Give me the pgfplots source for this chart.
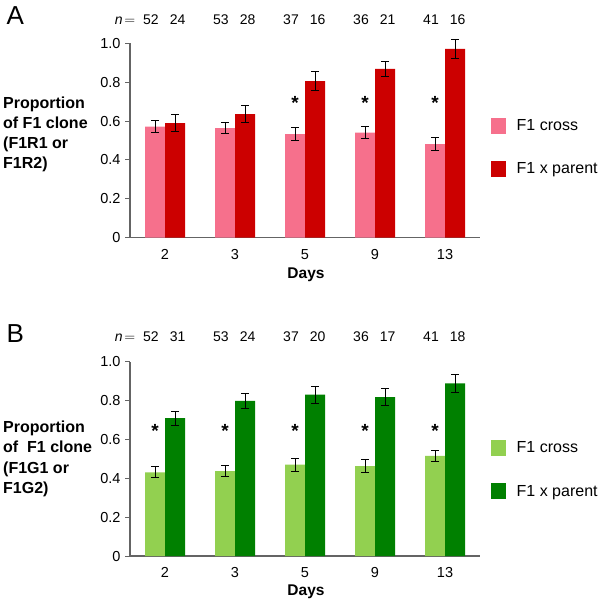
\documentclass[border=0pt]{standalone}
\usepackage{fontspec}
\setmainfont{Liberation Sans}
\usepackage{pgfplots}
\pgfplotsset{compat=1.18}

\definecolor{crossA}{RGB}{246,112,140}
\definecolor{parentA}{RGB}{204,0,0}
\definecolor{crossB}{RGB}{146,208,80}
\definecolor{parentB}{RGB}{0,128,0}
\definecolor{axisgray}{RGB}{100,100,100}

\tikzset{
  nlab/.style={anchor=base, font=\fontsize{14bp}{16bp}\selectfont},
  star/.style={anchor=base, font=\fontsize{19bp}{19bp}\selectfont\bfseries},
}

\pgfplotsset{
  panel/.style={
    width=350bp, height=194.4bp, scale only axis,
    anchor=south west,
    xmin=-0.5, xmax=4.5, ymin=0, ymax=1,
    ybar=0pt, bar width=20bp,
    axis lines*=left,
    axis line style={axisgray, line width=1.1bp},
    xtick={0,...,4}, xticklabels={2,3,5,9,13},
    ytick={0,0.2,0.4,0.6,0.8,1.0},
    yticklabels={0,0.2,0.4,0.6,0.8,1.0},
    tick align=outside,
    major tick length=5bp,
    y tick style={axisgray, line width=1bp},
    x tick style={draw=none},
    yticklabel style={font=\fontsize{14.5bp}{16bp}\selectfont, xshift=-1bp},
    xticklabel style={font=\fontsize{14.5bp}{16bp}\selectfont, yshift=-3bp},
    /pgf/number format/assume math mode=true,
    clip=false,
    legend image code/.code={\fill[##1] (0bp,-8bp) rectangle (15bp,8bp);},
    legend cell align=left,
    legend style={draw=none, fill=none, anchor=north west, inner sep=0pt,
      font=\fontsize{16bp}{18bp}\selectfont, row sep=27bp,
      /tikz/every odd column/.append style={column sep=9bp}},
  },
  bars/.style={draw=none,
    error bars/.cd, y dir=both, y explicit,
    error bar style={black, line width=1bp},
    error mark options={rotate=90, black, mark size=4bp, line width=1bp}},
}

\begin{document}
\begin{tikzpicture}
\useasboundingbox (0,0) rectangle (600bp,-601bp);

% ---------- panel A ----------
\begin{axis}[panel, at={(130bp,-237.7bp)}, legend style={at={(1.03,0.62)}}]
\addplot[fill=crossA, bars] coordinates {
  (0,0.571) +- (0,0.030) (1,0.564) +- (0,0.030) (2,0.533) +- (0,0.033)
  (3,0.540) +- (0,0.032) (4,0.482) +- (0,0.032)
};
\addplot[fill=parentA, bars] coordinates {
  (0,0.590) +- (0,0.044) (1,0.636) +- (0,0.042) (2,0.806) +- (0,0.050)
  (3,0.868) +- (0,0.040) (4,0.971) +- (0,0.049)
};
\legend{F1 cross, F1 x parent}
\node[nlab] (a0) at (axis cs:-0.2,1.097) {52};
\node[nlab, anchor=base east] at ([xshift=-1bp]a0.base west) {\textit{n}\hspace{1.5bp}$=$};
\node[nlab] at (axis cs:0.18,1.097) {24};
\node[nlab] at (axis cs:0.8,1.097) {53};
\node[nlab] at (axis cs:1.18,1.097) {28};
\node[nlab] at (axis cs:1.8,1.097) {37};
\node[nlab] at (axis cs:2.18,1.097) {16};
\node[nlab] at (axis cs:2.8,1.097) {36};
\node[nlab] at (axis cs:3.18,1.097) {21};
\node[nlab] at (axis cs:3.8,1.097) {41};
\node[nlab] at (axis cs:4.18,1.097) {16};
\node[star] at (axis cs:1.857,0.658) {*};
\node[star] at (axis cs:2.857,0.658) {*};
\node[star] at (axis cs:3.857,0.658) {*};
\end{axis}

% ---------- panel B ----------
\begin{axis}[panel, at={(130bp,-556bp)}, height=194.3bp, legend style={at={(1.03,0.60)}}]
\addplot[fill=crossB, bars] coordinates {
  (0,0.431) +- (0,0.029) (1,0.437) +- (0,0.029) (2,0.470) +- (0,0.033)
  (3,0.463) +- (0,0.034) (4,0.515) +- (0,0.030)
};
\addplot[fill=parentB, bars] coordinates {
  (0,0.709) +- (0,0.036) (1,0.799) +- (0,0.039) (2,0.830) +- (0,0.044)
  (3,0.818) +- (0,0.043) (4,0.889) +- (0,0.047)
};
\legend{F1 cross, F1 x parent}
\node[nlab] (b0) at (axis cs:-0.2,1.103) {52};
\node[nlab, anchor=base east] at ([xshift=-1bp]b0.base west) {\textit{n}\hspace{1.5bp}$=$};
\node[nlab] at (axis cs:0.18,1.103) {31};
\node[nlab] at (axis cs:0.8,1.103) {53};
\node[nlab] at (axis cs:1.18,1.103) {24};
\node[nlab] at (axis cs:1.8,1.103) {37};
\node[nlab] at (axis cs:2.18,1.103) {20};
\node[nlab] at (axis cs:2.8,1.103) {36};
\node[nlab] at (axis cs:3.18,1.103) {17};
\node[nlab] at (axis cs:3.8,1.103) {41};
\node[nlab] at (axis cs:4.18,1.103) {18};
\node[star] at (axis cs:-0.143,0.609) {*};
\node[star] at (axis cs:0.857,0.609) {*};
\node[star] at (axis cs:1.857,0.609) {*};
\node[star] at (axis cs:2.857,0.609) {*};
\node[star] at (axis cs:3.857,0.609) {*};
\end{axis}

% ---------- labels around the panels ----------
\node[anchor=base west, font=\fontsize{26bp}{26bp}\selectfont] at (3bp,-24bp) {A};
\node[anchor=base west, font=\fontsize{26bp}{26bp}\selectfont] at (3bp,-342.7bp) {B};
\begin{scope}[every node/.style={anchor=base west, inner sep=0pt, font=\fontsize{16bp}{20bp}\selectfont\bfseries}]
\node at (3bp,-108bp) {Proportion};
\node at (3bp,-128.3bp) {of F1 clone};
\node at (3bp,-148.3bp) {(F1R1 or};
\node at (3bp,-168.3bp) {F1R2)};
\node at (3bp,-432.7bp) {Proportion};
\node at (3bp,-452.7bp) {of\ \ F1 clone};
\node at (3bp,-473.3bp) {(F1G1 or};
\node at (3bp,-493.3bp) {F1G2)};
\end{scope}
\node[anchor=base, font=\fontsize{15.5bp}{18bp}\selectfont\bfseries] at (306bp,-278bp) {Days};
\node[anchor=base, font=\fontsize{15.5bp}{18bp}\selectfont\bfseries] at (306bp,-595bp) {Days};
\end{tikzpicture}
\end{document}
